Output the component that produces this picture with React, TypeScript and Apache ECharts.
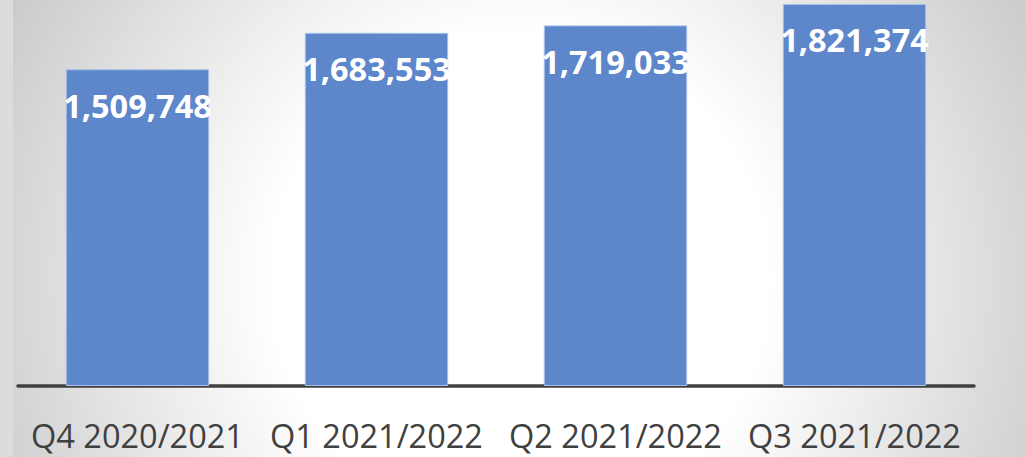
import React, { useEffect, useRef } from "react";
import * as echarts from "echarts";

const categories = ["Q4 2020/2021", "Q1 2021/2022", "Q2 2021/2022", "Q3 2021/2022"];
const values = [1509748, 1683553, 1719033, 1821374];

export default function App() {
  const ref = useRef<HTMLDivElement>(null);
  useEffect(() => {
    if (!ref.current) return;
    const chart = echarts.init(ref.current, undefined, { renderer: "svg" });
    chart.setOption({
      animation: false,
      backgroundColor: "#dcdcdc",
      graphic: [
        {
          type: "rect",
          z: -10,
          silent: true,
          shape: { x: 13, y: 0, width: 1012, height: 457 },
          style: {
            fill: new echarts.graphic.RadialGradient(
              520,
              280,
              620,
              [
                { offset: 0, color: "#ffffff" },
                { offset: 0.4, color: "#ffffff" },
                { offset: 0.6, color: "#ececec" },
                { offset: 0.85, color: "#d3d3d3" },
                { offset: 1, color: "#c4c4c4" },
              ],
              true
            ),
          },
        },
      ],
      grid: { left: 18, right: 51, top: 0, bottom: 71, containLabel: false },
      xAxis: {
        type: "category",
        data: categories,
        axisLine: { lineStyle: { color: "#404040", width: 3.5 } },
        axisTick: { show: false },
        axisLabel: {
          interval: 0,
          color: "#404040",
          fontFamily: "Open Sans",
          fontSize: 32.5,
          margin: 33,
        },
      },
      yAxis: {
        type: "value",
        min: 0,
        max: 1840000,
        show: false,
        splitLine: { show: false },
      },
      series: [
        {
          type: "bar",
          data: values,
          barWidth: "60%",
          itemStyle: { color: "#5d86cb", borderColor: "#a9c1ea", borderWidth: 1 },
          label: {
            show: true,
            position: "insideTop",
            distance: 20,
            color: "#ffffff",
            fontFamily: "Open Sans",
            fontWeight: "bold",
            fontSize: 32.5,
            lineHeight: 32,
            formatter: (p: any) => p.value.toLocaleString("en-US"),
          },
        },
      ],
    });
    return () => chart.dispose();
  }, []);
  return (
    <div
      ref={ref}
      style={{ position: "absolute", left: 0, top: 0, width: 1025, height: 457 }}
    />
  );
}
